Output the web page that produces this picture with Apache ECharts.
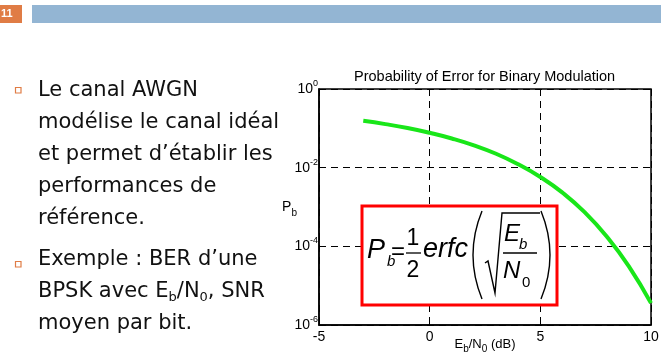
<!DOCTYPE html>
<html>
<head>
<meta charset="utf-8">
<script src="https://cdn.jsdelivr.net/npm/echarts@6/dist/echarts.min.js"></script>
<style>html,body{margin:0;padding:0;background:#fff;}#c{width:661px;height:355px;}</style>
</head>
<body>
<div id="c"></div>
<script>
// ---- data ----
const ebn0 = [-3, -2, -1, 0, 1, 2, 3, 4, 5, 6, 7, 8, 9, 10];
const pb = [0.155, 0.128, 0.102, 0.0770, 0.0553, 0.0370, 0.0226, 0.0122, 0.0058, 0.00232, 0.00074, 0.000178, 0.0000310, 0.0000036];
const xTicks = [-5, 0, 5, 10];
const yTicks = [1, 1e-2, 1e-4, 1e-6];
const chartTitle = 'Probability of Error for Binary Modulation';
const bulletLines1 = ['Le canal AWGN', 'modélise le canal idéal', 'et permet d’établir les', 'performances de', 'référence.'];
const bulletLines2 = ['Exemple : BER d’une', 'BPSK avec E{s|b}/N{s|0}, SNR', 'moyen par bit.'];
const slideNumber = '11';

const chart = echarts.init(document.getElementById('c'));
const F = 'Liberation Sans';
const TF = 'DejaVu Sans';
const BFS = 21;

const bodyText = [];
bulletLines1.forEach((t, i) => {
  bodyText.push({ type: 'text', x: 38, y: 98 + 32 * i - 7.5, style: { text: t, font: BFS + 'px "' + TF + '"', fill: '#111', verticalAlign: 'middle' } });
});
bulletLines2.forEach((t, i) => {
  bodyText.push({ type: 'text', x: 38, y: 267 + 32 * i - 7.5, style: { text: t, font: BFS + 'px "' + TF + '"', fill: '#111', verticalAlign: 'middle',
    rich: { s: { fontSize: 13, fontFamily: TF, padding: [13, 0, 0, 0], fill: '#111' } } } });
});

const formula = [
  { type: 'rect', shape: { x: 362, y: 206, width: 195, height: 99 }, style: { fill: '#fff', stroke: '#ff0000', lineWidth: 3 }, z: 10 },
  { type: 'text', x: 367, y: 250, style: { text: 'P', font: 'italic 27px "' + F + '"', fill: '#000', verticalAlign: 'middle' }, z: 11 },
  { type: 'text', x: 387, y: 262, style: { text: 'b', font: 'italic 15px "' + F + '"', fill: '#000', verticalAlign: 'middle' }, z: 11 },
  { type: 'text', x: 391, y: 252, style: { text: '=', font: '24px "' + F + '"', fill: '#000', verticalAlign: 'middle' }, z: 11 },
  { type: 'text', x: 413, y: 239, style: { text: '1', font: '23px "' + F + '"', fill: '#000', verticalAlign: 'middle', align: 'center' }, z: 11 },
  { type: 'line', shape: { x1: 406, y1: 253, x2: 421, y2: 253 }, style: { stroke: '#000', lineWidth: 1.3 }, z: 11 },
  { type: 'text', x: 413, y: 271, style: { text: '2', font: '23px "' + F + '"', fill: '#000', verticalAlign: 'middle', align: 'center' }, z: 11 },
  { type: 'text', x: 423, y: 249, style: { text: 'erfc', font: 'italic 27px "' + F + '"', fill: '#000', verticalAlign: 'middle' }, z: 11 },
  { type: 'bezierCurve', shape: { x1: 482, y1: 211, cpx1: 464, cpy1: 255, x2: 482, y2: 299 }, style: { stroke: '#000', lineWidth: 1.4, fill: null }, z: 11 },
  { type: 'polyline', shape: { points: [[485, 263], [488, 261], [495, 293], [502, 213], [540, 213]] }, style: { stroke: '#000', lineWidth: 1.4, fill: null }, z: 11 },
  { type: 'text', x: 504, y: 234, style: { text: 'E', font: 'italic 24px "' + F + '"', fill: '#000', verticalAlign: 'middle' }, z: 11 },
  { type: 'text', x: 519, y: 245, style: { text: 'b', font: 'italic 15px "' + F + '"', fill: '#000', verticalAlign: 'middle' }, z: 11 },
  { type: 'line', shape: { x1: 503, y1: 253, x2: 537, y2: 253 }, style: { stroke: '#000', lineWidth: 1.3 }, z: 11 },
  { type: 'text', x: 503, y: 271, style: { text: 'N', font: 'italic 24px "' + F + '"', fill: '#000', verticalAlign: 'middle' }, z: 11 },
  { type: 'text', x: 522, y: 283, style: { text: '0', font: '15px "' + F + '"', fill: '#000', verticalAlign: 'middle' }, z: 11 },
  { type: 'bezierCurve', shape: { x1: 541, y1: 211, cpx1: 559, cpy1: 255, x2: 541, y2: 299 }, style: { stroke: '#000', lineWidth: 1.4, fill: null }, z: 11 }
];

const option = {
  backgroundColor: '#fff',
  animation: false,
  title: {
    text: chartTitle, left: 349, top: 64,
    textStyle: { fontFamily: F, fontWeight: 'normal', fontSize: 14.5, color: '#000' }
  },
  grid: { left: 319, top: 89, width: 332, height: 236, outerBoundsMode: 'none', containLabel: false, show: true, borderColor: '#000', borderWidth: 1.5, backgroundColor: 'transparent' },
  xAxis: {
    type: 'value', min: -5, max: 10, interval: 5,
    axisLine: { onZero: false, lineStyle: { color: '#000', width: 1.5 } },
    axisTick: { inside: true, length: 4, lineStyle: { color: '#000' } },
    axisLabel: { color: '#000', fontFamily: F, fontSize: 14, margin: 5,
      formatter: v => xTicks.indexOf(v) >= 0 ? String(v) : '' },
    splitLine: { show: true, lineStyle: { color: '#000', type: [7, 5], width: 1 } },
    name: 'E{s|b}/N{s|0} (dB)', nameLocation: 'middle', nameGap: 9, nameMoveOverlap: false,
    nameTextStyle: { color: '#000', fontFamily: F, fontSize: 13, rich: { s: { fontSize: 10, fontFamily: F, color: '#000', padding: [10, 0, 0, 0] } } }
  },
  yAxis: {
    type: 'log', logBase: 10, min: 1e-6, max: 1, interval: 2,
    axisLine: { onZero: false, lineStyle: { color: '#000', width: 1.5 } },
    axisTick: { inside: true, length: 4, lineStyle: { color: '#000' } },
    axisLabel: {
      color: '#000', margin: 1,
      formatter: v => { const e = Math.round(Math.log10(v)); return '{b|10}{e|' + e + '}'; },
      rich: {
        b: { fontFamily: F, fontSize: 14, color: '#000' },
        e: { fontFamily: F, fontSize: 9, color: '#000', padding: [0, 0, 11, 0] }
      }
    },
    splitLine: { show: true, lineStyle: { color: '#000', type: [7, 5], width: 1 } },
    name: 'P{s|b}', nameLocation: 'middle', nameGap: 22, nameRotate: 0, nameMoveOverlap: false,
    nameTextStyle: { color: '#000', fontFamily: F, fontSize: 14, align: 'right', rich: { s: { fontSize: 10, fontFamily: F, color: '#000', padding: [12, 0, 0, 0] } } }
  },
  series: [{
    type: 'line', data: ebn0.map((x, i) => [x, pb[i]]), smooth: true, showSymbol: false,
    lineStyle: { color: '#19e619', width: 4 }, z: 5
  }],
  graphic: [
    { type: 'rect', shape: { x: 0, y: 5, width: 22, height: 18 }, style: { fill: '#e07c45' } },
    { type: 'rect', shape: { x: 32, y: 5, width: 629, height: 18 }, style: { fill: '#93b5d3' } },
    { type: 'text', x: 1, y: 14, style: { text: slideNumber, font: 'bold 11px "' + F + '"', fill: '#fff', verticalAlign: 'middle' } },
    { type: 'rect', shape: { x: 15.5, y: 87.5, width: 5.5, height: 5.5 }, style: { fill: 'none', stroke: '#e07c45', lineWidth: 1.2 } },
    { type: 'rect', shape: { x: 15.5, y: 261.5, width: 5.5, height: 5.5 }, style: { fill: 'none', stroke: '#e07c45', lineWidth: 1.2 } }
  ].concat(bodyText).concat(formula)
};
chart.setOption(option);
</script>
</body>
</html>
